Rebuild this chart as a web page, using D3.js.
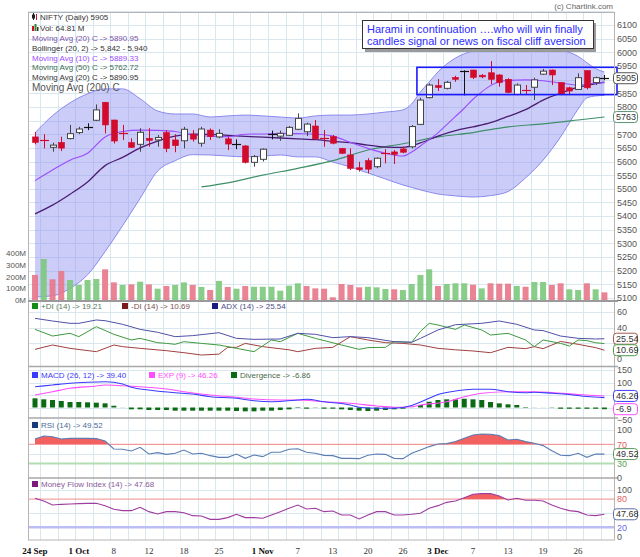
<!DOCTYPE html>
<html>
<head>
<meta charset="utf-8">
<title>NIFTY daily</title>
<script src="https://cdn.jsdelivr.net/npm/d3@7/dist/d3.min.js"></script>
<style>
  body { margin: 0; background: #fff; }
  svg text { font-family: Arial, "Liberation Sans", sans-serif; }
</style>
</head>
<body>
<svg id="chart" width="640" height="557"></svg>
<script>
// NIFTY daily, 24 Sep - 31 Dec 2012
var opens  = [5690,5677,5652,5670,5684,5706,5725,5751,5817,5752, 5706,5669,5663,5685,5679,5706,5679,5676,5700,5667,
              5715,5690,5683,5663,5657,5597,5608,5697,5693,5696, 5718,5709,5730,5685,5691,5648,5624,5577,5603,5581,
              5632,5635,5646,5654,5736,5834,5878,5868,5908,5930, 5935,5916,5925,5917,5901,5846,5862,5872,5920,5935,
              5889,5870,5864,5933,5889,5903];
var highs  = [5708,5700,5669,5691,5734,5727,5740,5809,5818,5753, 5734,5685,5722,5722,5697,5715,5700,5727,5715,5727,
              5721,5718,5691,5681,5660,5624,5648,5713,5713,5730, 5776,5742,5752,5715,5697,5650,5648,5599,5612,5615,
              5645,5642,5654,5734,5834,5886,5902,5895,5914,5934, 5936,5920,5968,5920,5905,5886,5880,5907,5939,5937,
              5890,5874,5923,5934,5911,5917];
var lows   = [5663,5648,5636,5638,5681,5700,5715,5748,5703,5666, 5679,5650,5636,5654,5654,5634,5634,5648,5673,5654,
              5679,5685,5642,5645,5593,5581,5600,5681,5676,5693, 5715,5693,5679,5654,5663,5627,5569,5563,5557,5575,
              5593,5591,5630,5648,5734,5831,5858,5864,5892,5842, 5902,5905,5883,5874,5850,5843,5846,5825,5917,5880,
              5843,5846,5862,5864,5880,5898];
var closes = [5670,5674,5660,5649,5702,5719,5727,5789,5734,5675, 5704,5652,5707,5677,5688,5648,5658,5718,5682,5719,
              5691,5703,5664,5665,5597,5618,5645,5700,5703,5725, 5758,5737,5683,5682,5667,5630,5575,5570,5572,5612,
              5628,5626,5634,5728,5825,5880,5871,5890,5901,5932, 5908,5910,5901,5889,5853,5880,5860,5899,5931,5917,
              5846,5858,5907,5870,5907,5905];
// volume in millions
var volumes = [213,349,176,247,170,128,170,179,261,150, 128,133,156,133,96,119,128,150,128,111,
               85,162,111,96,119,113,113,113,79,122, 142,119,99,96,23,136,128,108,113,108,
               94,91,85,136,213,261,119,136,142,142, 130,99,142,139,139,119,113,153,153,128,
               142,91,85,142,91,65];

var tickIdx    = [0,5,9,13,17,21,26,30,34,38,42,46,50,54,58,62];
var tickLabels = ["24 Sep","1 Oct","8","12","18","25","1 Nov","7","13","20","26","3 Dec","7","13","19","26"];

// bollinger (20,2)
var bbIdx   = [0,2,4,6,8,10,12,14,16,18,20,22,24,26,28,30,32,34,36,38,40,42,43,44,45,46,47,48,50,52,54,56,58,60,62,63,64,65];
var bbUpper = [5705,5768,5815,5848,5866,5866,5830,5785,5774,5774, 5763,5767,5770,5767,5763,5759,5767,5770,5770,5774,
               5781,5789,5811,5855,5891,5928,5957,5979,6005,6016, 6019,6019,6016,6008,5985,5962,5940,5928];
var bbLower = [5104,5108,5135,5185,5270,5365,5465,5565,5603,5625, 5624,5620,5617,5620,5624,5617,5617,5598,5580,5558,
               5536,5514,5505,5496,5488,5481,5477,5474,5470,5475, 5490,5540,5605,5690,5792,5833,5840,5842];

var ma20Idx = [0,2,4,6,8,10,12,14,16,18,20,22,24,26,28,30,32,34,36,38,40,42,44,46,48,50,52,54,56,58,60,62,64,65];
var ma20    = [5408,5440,5480,5525,5585,5615,5650,5675,5693,5700, 5699,5696,5692,5689,5686,5683,5680,5674,5669,5660,
               5653,5652,5668,5693,5713,5727,5742,5765,5790,5825, 5850,5872,5885,5891];
var ma10Idx = [0,2,4,6,8,10,12,14,16,18,20,22,24,26,28,30,32,34,36,38,40,42,43,44,45,46,47,48,49,50,51,52,54,56,58,60,62,64,65];
var ma10    = [5530,5569,5605,5630,5690,5710,5715,5714,5710,5697, 5693,5691,5700,5701,5703,5702,5700,5693,5670,5648,
               5630,5620,5635,5657,5680,5705,5735,5765,5795,5828, 5855,5878,5897,5899,5896,5887,5880,5887,5889];
var ma50Idx = [19,22,26,30,34,38,42,46,50,54,58,62,65];
var ma50    = [5507,5522,5550,5575,5603,5642,5665,5690,5706,5727,5738,5752,5763];

// ADX (14)
var adxIdx = [0,2,4,5,7,8,10,12,14,16,18,21,23,25,28,30,32,34,36,38,41,43,44,46,48,51,53,55,57,58,60,62,64,65];
var adxVal = [51.8,48.4,45.4,45.4,49.7,48.8,44.1,37.6,33.8,28.2, 29.5,33.3,26,24.7,25.2,32.5,31.2,26.9,28.2,26.9,
              21.7,20.9,26,36.8,43.6,45.4,48.4,44.1,36.8,36, 29,26,25.2,25.5];
var pdiIdx = [0,2,4,5,7,9,11,12,14,15,16,17,19,21,23,25,27,28,30,32,35,37,38,40,41,43,44,45,46,48,49,51,52,54,56,57,58,60,61,62,63,64,65];
var pdiVal = [37.6,29,32.5,28.2,41.1,31.2,23.9,26,20.4,19.5, 18.3,21.7,19.5,17.4,13.1,8.8,23.9,21.7,32.5,26,
              17.4,11.8,14,14.4,21.7,21,35,45.4,43.2,37.6, 43.2,36.8,30.3,32.5,23.9,15.3,23.9,19.5,16.1,23.9, 23,20.4,19.2];
var mdiIdx = [0,2,4,7,9,10,12,15,17,19,21,22,23,24,26,29,30,32,34,36,38,40,42,44,46,48,50,52,54,56,57,58,60,62,64,65];
var mdiVal = [11.8,17.4,13.1,8.8,17.4,15.3,13.1,10.1,7.5,4.5, 5.6,14.4,14.4,19.5,15.3,11.2,8.8,13.1,14.4,28.2,
              23.9,20.4,19.5,17.4,13.1,11.2,9.7,7.5,14.4,12.7, 15.3,12.7,22,18.3,14,10.7];

// MACD (26,12), EXP (9), divergence
var macdIdx = [0,2,4,6,8,10,11,13,16,18,20,23,25,27,30,31,33,36,37,39,41,43,44,45,46,48,50,52,54,56,57,59,61,63,65];
var macdVal = [83,90,97,101,103,94,81,70,59,54, 43,37,27,23,30,33,23,10,1,-3, -3,8,22,37,52,66,73,73,63,59, 61,57,52,44,39.4];
var expIdx  = [0,2,4,7,8,10,12,15,17,20,23,25,28,30,33,36,39,41,43,44,47,49,51,54,57,59,62,65];
var expVal  = [50,63,77,86,90,87,83,74,63,50, 41,34,30,30,23,17,6,1,3,10, 23,43,57,63,63,60,52,46.3];
var divergence = [36.7,32.7,30,26,22,22,20.7,19.3,16.7,7, 0.5,-7.3,-7.3,-10,-10,-10,-12.7,-12.7,-12.7,-12.7,
                  -12.7,-12.7,-12.7,-14,-15.3,-15.3,-12.7,-12.7,-10,-7.3, -2,-4.7,-1,-4.7,-4.7,-7.3,-10,-12.7,-14,-12.7,
                  -10,-7.3,-4.7,0.5,10,23,30,32.7,32.7,35, 32.7,30,22,16.7,12.7,10,2,0.5,0.3,-1,
                  -5,-5,-5,-5,-5,-6.86];

var rsi = [81.1,87.4,86,81.1,82.5,82.5,82.5,82,76.9,60.2, 59.5,56,63.7,49.7,52.5,49,51.1,58.1,49.7,51.1,
           46.2,42.7,42.7,49.7,40.6,47.6,44.1,53.2,53.2,59.5, 60.8,53.2,51.1,46.9,46.2,40.6,40.6,39.9,46.9,49.7,
           49,40.6,39.9,51.1,58.1,65.2,70.8,71.5,75.7,82.5, 89.6,91.6,91,88.2,79.1,80.5,75.7,72.2,67.3,56.7,
           46.9,46.2,51.1,42.7,49.7,49.5];
var mfi = [81.5,75.8,67.4,68.8,69.5,70.2,70.9,70.9,66,58.3, 55.4,55.4,62.5,53.3,48.3,53.3,53.3,51.1,44.8,44.1,
           37,37,40.6,47.7,40.6,40.6,39.2,46.3,53.3,60.4, 67.4,58.9,60.4,53.3,54.7,46.3,46.3,37.7,46.3,53.3,
           53.3,46.3,46.3,47.7,49.8,60.4,66,73,75.8,82.9, 90,91.4,91.4,86.5,78,81.5,77.3,77.3,75.8,67.4,
           60.4,55.4,53.3,46.3,44.8,47.68];

// 5750 and 5900 sit under the value tags, so they are left out
var priceTicks = [5100,5150,5200,5250,5300,5350,5400,5450,5500,5550,5600,5650,5700,5800,5850,5950,6000,6050,6100];
var gridPrices = [5100,5150,5200,5250,5300,5350,5400,5450,5500,5550,5600,5650,5700,5750,5800,5850,5900,5950,6000,6050,6100,6150];
var volTicks   = [0,100,200,300,400];
var adxTicks   = [0,40,60];
var macdTicks  = [-50,100,150];
var rsiTicks   = [0,30,70,100];
var mfiTicks   = [0,20,80,100];

// consolidation box drawn on the chart
var boxFrom = 43.6, boxLow = 5845, boxHigh = 5945;

var svg = d3.select("#chart");
var L = 28, R = 614;

var x  = d3.scaleLinear().domain([0, 65]).range([35, 604.4]);
var yP = d3.scaleLinear().domain([5100, 6100]).range([298, 25]);
var yV = d3.scaleLinear().domain([0, 400]).range([300, 253]);
var yA = d3.scaleLinear().domain([0, 60]).range([358.5, 312]);
var yM = d3.scaleLinear().domain([-50, 150]).range([420, 370]);
var yR = d3.scaleLinear().domain([0, 100]).range([477.7, 430]);
var yF = d3.scaleLinear().domain([0, 100]).range([536.8, 489.6]);

var panels = [[12, 301], [301, 366.5], [366.5, 418], [418, 478], [478, 540]];

var defs = svg.append("defs");
panels.forEach(function(p, k) {
  defs.append("clipPath").attr("id", "clip" + k).append("rect")
    .attr("x", L).attr("y", p[0]).attr("width", R - L).attr("height", p[1] - p[0]);
});
defs.append("clipPath").attr("id", "rsiHi").append("rect")
  .attr("x", L).attr("y", 418).attr("width", R - L).attr("height", yR(70) - 418);
defs.append("clipPath").attr("id", "mfiHi").append("rect")
  .attr("x", L).attr("y", 478).attr("width", R - L).attr("height", yF(80) - 478);

// ---- grid ----
var grid = svg.append("g").attr("stroke", "#d9e7ee").attr("stroke-width", 1);
d3.range(0, 33).forEach(function(k) {
  var gx = Math.round(x(2 * k + 0.6)) + 0.5;
  grid.append("line").attr("x1", gx).attr("x2", gx).attr("y1", 12).attr("y2", 540);
});
function hgrid(y) {
  grid.append("line").attr("x1", L).attr("x2", R).attr("y1", Math.round(y) + 0.5).attr("y2", Math.round(y) + 0.5);
}
gridPrices.forEach(function(v) { hgrid(yP(v)); });
[20, 40, 60].forEach(function(v) { hgrid(yA(v)); });
[0, 50, 100, 150].forEach(function(v) { hgrid(yM(v)); });
[50, 100].forEach(function(v) { hgrid(yR(v)); });
[50, 100].forEach(function(v) { hgrid(yF(v)); });

// ---- main panel ----
var main = svg.append("g").attr("clip-path", "url(#clip0)");

var band = d3.zip(bbIdx, bbUpper, bbLower);
main.append("path").datum(band)
  .attr("fill", "#8f8ff2").attr("fill-opacity", 0.45)
  .attr("d", d3.area().curve(d3.curveMonotoneX)
    .x(function(d) { return x(d[0]); })
    .y0(function(d) { return yP(d[2]); })
    .y1(function(d) { return yP(d[1]); }));
[1, 2].forEach(function(k) {
  main.append("path").datum(band).attr("fill", "none").attr("stroke", "#8a8aee").attr("stroke-width", 1)
    .attr("d", d3.line().curve(d3.curveMonotoneX)
      .x(function(d) { return x(d[0]); })
      .y(function(d) { return yP(d[k]); }));
});

// volume
main.selectAll(".vol").data(volumes).enter().append("rect")
  .attr("class", "vol")
  .attr("x", function(d, i) { return x(i) - 3; })
  .attr("width", 6)
  .attr("y", function(d) { return yV(d); })
  .attr("height", function(d) { return yV(0) - yV(d); })
  .attr("fill", function(d, i) { return i > 0 && closes[i] >= closes[i - 1] ? "#7ec97e" : "#e8788a"; })
  .attr("fill-opacity", 0.92);

// moving averages
var priceLine = d3.line().curve(d3.curveMonotoneX)
  .x(function(d) { return x(d[0]); })
  .y(function(d) { return yP(d[1]); });
main.append("path").datum(d3.zip(ma50Idx, ma50)).attr("fill", "none").attr("stroke", "#3f8f68").attr("stroke-width", 1.2).attr("d", priceLine);
main.append("path").datum(d3.zip(ma20Idx, ma20)).attr("fill", "none").attr("stroke", "#4a1d72").attr("stroke-width", 1.3).attr("d", priceLine);
main.append("path").datum(d3.zip(ma10Idx, ma10)).attr("fill", "none").attr("stroke", "#9b4dff").attr("stroke-width", 1.1).attr("d", priceLine);

// candles
var candles = main.selectAll(".candle").data(d3.range(opens.length)).enter().append("g").attr("class", "candle");
candles.each(function(i) {
  var g = d3.select(this);
  var up = closes[i] >= opens[i];
  var cx = Math.round(x(i)) + 0.5;
  var top = yP(Math.max(opens[i], closes[i])), bot = yP(Math.min(opens[i], closes[i]));
  var col = up ? "#444" : "#d20a2c";
  var flat = bot - top < 1.3;
  g.append("line").attr("x1", cx).attr("x2", cx).attr("y1", yP(highs[i])).attr("y2", yP(lows[i]))
    .attr("stroke", flat && up ? "#111" : col).attr("stroke-width", 1);
  if (flat) {
    g.append("line").attr("x1", cx - 4.5).attr("x2", cx + 4.5).attr("y1", Math.round(top) + 0.5).attr("y2", Math.round(top) + 0.5)
      .attr("stroke", up ? "#111" : col).attr("stroke-width", 1.2);
  } else {
    g.append("rect").attr("x", cx - 3).attr("width", 6).attr("y", top).attr("height", bot - top)
      .attr("fill", up ? "#fff" : col).attr("stroke", col).attr("stroke-width", up ? 1 : 0.6);
  }
});

// box around the congestion zone
svg.append("rect")
  .attr("x", x(boxFrom)).attr("y", yP(boxHigh))
  .attr("width", R + 3 - x(boxFrom)).attr("height", yP(boxLow) - yP(boxHigh))
  .attr("fill", "none").attr("stroke", "#1a1aff").attr("stroke-width", 1.6);

// ---- ADX panel ----
var adxG = svg.append("g").attr("clip-path", "url(#clip1)");
function idxLine(scale) {
  return d3.line().x(function(d) { return x(d[0]); }).y(function(d) { return scale(d[1]); });
}
adxG.append("path").datum(d3.zip(mdiIdx, mdiVal)).attr("fill", "none").attr("stroke", "#a04040").attr("d", idxLine(yA));
adxG.append("path").datum(d3.zip(pdiIdx, pdiVal)).attr("fill", "none").attr("stroke", "#3d9a3d").attr("d", idxLine(yA));
adxG.append("path").datum(d3.zip(adxIdx, adxVal)).attr("fill", "none").attr("stroke", "#5050a8").attr("d", idxLine(yA));

// ---- MACD panel ----
var macdG = svg.append("g").attr("clip-path", "url(#clip2)");
macdG.selectAll(".div").data(divergence).enter().append("rect")
  .attr("class", "div")
  .attr("x", function(d, i) { return x(i) - 2.5; })
  .attr("width", 5)
  .attr("y", function(d) { return Math.min(yM(d), yM(0)); })
  .attr("height", function(d) { return Math.abs(yM(d) - yM(0)); })
  .attr("fill", "#0b6b12");
macdG.append("path").datum(d3.zip(expIdx, expVal)).attr("fill", "none").attr("stroke", "#ff4dff").attr("stroke-width", 1.1)
  .attr("d", idxLine(yM).curve(d3.curveMonotoneX));
macdG.append("path").datum(d3.zip(macdIdx, macdVal)).attr("fill", "none").attr("stroke", "#3b3bff").attr("stroke-width", 1.1)
  .attr("d", idxLine(yM).curve(d3.curveMonotoneX));

// ---- RSI panel ----
var rsiG = svg.append("g").attr("clip-path", "url(#clip3)");
rsiG.append("line").attr("x1", L).attr("x2", R).attr("y1", yR(70)).attr("y2", yR(70)).attr("stroke", "#f3a3a3").attr("stroke-width", 1.2);
rsiG.append("line").attr("x1", L).attr("x2", R).attr("y1", yR(30)).attr("y2", yR(30)).attr("stroke", "#b3dcb3").attr("stroke-width", 2);
rsiG.append("path").datum(rsi).attr("clip-path", "url(#rsiHi)").attr("fill", "#f26060")
  .attr("d", d3.area().x(function(d, i) { return x(i); }).y0(yR(70)).y1(function(d) { return yR(d); }));
rsiG.append("path").datum(rsi).attr("fill", "none").attr("stroke", "#5b7db3").attr("stroke-width", 1.1)
  .attr("d", d3.line().x(function(d, i) { return x(i); }).y(function(d) { return yR(d); }));

// ---- MFI panel ----
var mfiG = svg.append("g").attr("clip-path", "url(#clip4)");
mfiG.append("line").attr("x1", L).attr("x2", R).attr("y1", yF(80)).attr("y2", yF(80)).attr("stroke", "#f3a3a3").attr("stroke-width", 1.2);
mfiG.append("line").attr("x1", L).attr("x2", R).attr("y1", yF(20)).attr("y2", yF(20)).attr("stroke", "#bdbdf5").attr("stroke-width", 2.5);
mfiG.append("path").datum(mfi).attr("clip-path", "url(#mfiHi)").attr("fill", "#f26060")
  .attr("d", d3.area().x(function(d, i) { return x(i); }).y0(yF(80)).y1(function(d) { return yF(d); }));
mfiG.append("path").datum(mfi).attr("fill", "none").attr("stroke", "#a03ca0").attr("stroke-width", 1.1)
  .attr("d", d3.line().x(function(d, i) { return x(i); }).y(function(d) { return yF(d); }));

// ---- frame & separators ----
svg.append("rect").attr("x", L + 0.5).attr("y", 12.5).attr("width", R - L).attr("height", 527.5)
  .attr("fill", "none").attr("stroke", "#b4b4b4");
[301, 366.5, 418, 478].forEach(function(y, k) {
  svg.append("line").attr("x1", L).attr("x2", R + 4).attr("y1", y).attr("y2", y)
    .attr("stroke", k == 0 ? "#9a9a9a" : "#a8a8a8").attr("stroke-width", k == 0 ? 2 : 1.5);
});

// ---- axes ----
function rightAxis(scale, ticks, fmt) {
  var g = svg.append("g").attr("transform", "translate(" + R + ",0)")
    .call(d3.axisRight(scale).tickValues(ticks).tickSize(0).tickPadding(3).tickFormat(fmt || d3.format("d")));
  g.select(".domain").remove();
  g.attr("font-size", 9).attr("color", "#555");
  return g;
}
rightAxis(yP, priceTicks);
rightAxis(yA, adxTicks);
rightAxis(yM, macdTicks);
var ra = rightAxis(yR, rsiTicks);
ra.selectAll("text").attr("fill", function(d) { return d == 70 ? "#e06060" : d == 30 ? "#5aa05a" : "#555"; });
var fa = rightAxis(yF, mfiTicks);
fa.selectAll("text").attr("fill", function(d) { return d == 80 ? "#e06060" : d == 20 ? "#6a6ae8" : "#555"; });

var va = svg.append("g").attr("transform", "translate(" + (L - 2) + ",0)")
  .call(d3.axisLeft(yV).tickValues(volTicks).tickSize(0).tickPadding(0).tickFormat(function(d) { return d + "M"; }));
va.select(".domain").remove();
va.attr("font-size", 8).attr("color", "#555");

// value tags on the right
function tag(y, label, color) {
  var g = svg.append("g").attr("transform", "translate(" + (R - 1) + "," + y + ")");
  g.append("rect").attr("x", 0.5).attr("y", -5.5).attr("width", 24).attr("height", 11).attr("rx", 3)
    .attr("fill", "#fff").attr("stroke", color);
  g.append("text").attr("x", 3).attr("dy", "0.35em").attr("font-size", 9).attr("fill", "#333").text(label);
}
tag(yP(5905), "5905", "#555");
tag(yP(5762.72), "5763", "#5b9070");
tag(yA(25.54), "25.54", "#a05a50");
tag(yA(10.69), "10.69", "#4a9a4a");
tag(yM(46.26), "46.26", "#3b3bff");
tag(yM(-6.86), "-6.9", "#ff4dff");
tag(yR(49.52), "49.52", "#5a9a5a");
tag(yF(47.68), "47.68", "#5a70a8");

// x axis labels
svg.selectAll(".xl").data(tickIdx).enter().append("text")
  .attr("class", "xl")
  .attr("x", function(d) { return x(d); })
  .attr("y", 554)
  .attr("text-anchor", "middle")
  .style("font-family", "'Liberation Serif', 'DejaVu Serif', serif")
  .attr("font-size", 9)
  .attr("font-weight", function(d, k) { return tickLabels[k].indexOf(" ") > 0 ? "bold" : "normal"; })
  .attr("fill", function(d, k) { return tickLabels[k].indexOf(" ") > 0 ? "#111" : "#333"; })
  .text(function(d, k) { return tickLabels[k]; });

// ---- legends ----
function txt(px, py, s, color, size) {
  svg.append("text").attr("x", px).attr("y", py).attr("font-size", size || 8).attr("fill", color).text(s);
}
// small icons
svg.append("line").attr("x1", 33.5).attr("x2", 33.5).attr("y1", 13).attr("y2", 20).attr("stroke", "#222");
svg.append("rect").attr("x", 32).attr("y", 14.5).attr("width", 3).attr("height", 4).attr("fill", "#222");
svg.append("line").attr("x1", 36.5).attr("x2", 36.5).attr("y1", 14).attr("y2", 20).attr("stroke", "#d20a2c");
svg.append("rect").attr("x", 32).attr("y", 26).attr("width", 2).attr("height", 5).attr("fill", "#d20a2c");
svg.append("rect").attr("x", 34.5).attr("y", 24).attr("width", 2).attr("height", 7).attr("fill", "#2a8a2a");
svg.append("rect").attr("x", 37).attr("y", 27).attr("width", 1.5).attr("height", 4).attr("fill", "#333");
txt(40, 20, "NIFTY (Daily) 5905", "#333");
txt(40, 30.5, "Vol: 64.81 M", "#333");
txt(32, 41, "Moving Avg (20) C -> 5890.95", "#7a52a8");
txt(32, 51, "Bollinger (20, 2) -> 5,842 - 5,940", "#333");
txt(32, 60.5, "Moving Avg (10) C -> 5889.33", "#9b4dff");
txt(32, 70, "Moving Avg (50) C -> 5762.72", "#3d6e52");
txt(32, 79.5, "Moving Avg (20) C -> 5890.95", "#333");
txt(32, 91, "Moving Avg (200) C", "#555", 10);

function key(px, py, color, s, tcolor) {
  svg.append("rect").attr("x", px).attr("y", py - 6).attr("width", 6).attr("height", 6).attr("fill", color);
  txt(px + 9, py, s, tcolor);
}
key(32, 309, "#138a13", "+DI (14) -> 19.21", "#5a7a5a");
key(122, 309, "#7a1a1a", "-DI (14) -> 10.69", "#7a5050");
key(212, 309, "#1a1a80", "ADX (14) -> 25.54", "#50508a");
key(32, 378, "#3b3bff", "MACD (26, 12) -> 39.40", "#3b3bff");
key(149, 378, "#ff4dff", "EXP (9) -> 46.26", "#ff4dff");
key(231, 378, "#0b6b12", "Divergence -> -6.86", "#4a6a4a");
key(32, 428, "#1a3a7a", "RSI (14) -> 49.52", "#4a6a9a");
key(32, 487, "#7a1a7a", "Money Flow Index (14) -> 47.68", "#8a5a98");

svg.append("text").attr("x", 613).attr("y", 8.5).attr("text-anchor", "end").attr("font-size", 8).attr("fill", "#666").text("(c) Chartink.com");

// ---- comment box ----
svg.append("rect").attr("x", 365).attr("y", 23).attr("width", 231).attr("height", 29).attr("fill", "#9a9a9a");
svg.append("rect").attr("x", 362.5).attr("y", 20.5).attr("width", 231).attr("height", 28).attr("fill", "#fff").attr("stroke", "#333");
txt(367, 32.5, "Harami in continuation ….who will win finally", "#2b2bff", 11);
txt(367, 45, "candles signal or news on fiscal cliff aversion", "#2b2bff", 11);
</script>
</body>
</html>
